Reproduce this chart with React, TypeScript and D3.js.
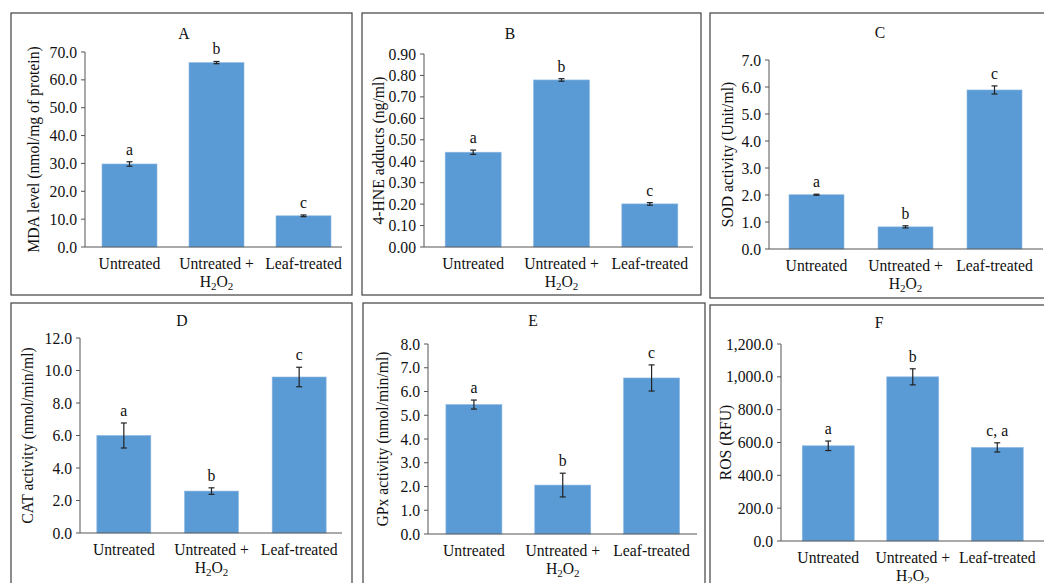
import React from "react";
import * as d3 from "d3";

// Categories shared by all six panels
const categories = ["Untreated", "Untreated + H2O2", "Leaf-treated"];

// A - MDA level
const mdaValues = [29.8, 66.2, 11.2];
const mdaErrors = [0.8, 0.4, 0.3];
const mdaLetters = ["a", "b", "c"];

// B - 4-HNE adducts
const hneValues = [0.442, 0.779, 0.201];
const hneErrors = [0.01, 0.006, 0.006];
const hneLetters = ["a", "b", "c"];

// C - SOD activity
const sodValues = [2.01, 0.82, 5.89];
const sodErrors = [0.02, 0.04, 0.15];
const sodLetters = ["a", "b", "c"];

// D - CAT activity
const catValues = [6.0, 2.58, 9.6];
const catErrors = [0.77, 0.2, 0.6];
const catLetters = ["a", "b", "c"];

// E - GPx activity
const gpxValues = [5.45, 2.06, 6.57];
const gpxErrors = [0.19, 0.5, 0.55];
const gpxLetters = ["a", "b", "c"];

// F - ROS
const rosValues = [580, 1000, 570];
const rosErrors = [29, 49, 28];
const rosLetters = ["a", "b", "c, a"];

const FONT = "'Liberation Serif', 'Times New Roman', serif";
const TEXT = "#111";
const BAR = "#5b9bd5";
const AXIS = "#555";

type PanelProps = {
  title: string;
  yLabel: string;
  values: number[];
  errors: number[];
  letters: string[];
  yMax: number;
  yStep: number;
  fmt: string;
  box: [number, number, number, number];
  axisX: number;
  top: number;
  bottom: number;
  right: number;
  bandRange: [number, number];
  barWidth: number;
  titleX: number;
  titleY: number;
  yLabelX: number;
};

function CategoryLabel({ text, x, y }: { text: string; x: number; y: number }) {
  if (text.endsWith("H2O2")) {
    const first = text.replace(" H2O2", "");
    return (
      <g>
        <text x={x} y={y} textAnchor="middle">{first}</text>
        <text x={x} y={y + 18} textAnchor="middle">
          H<tspan fontSize={11} dy={3}>2</tspan>
          <tspan dy={-3}>O</tspan>
          <tspan fontSize={11} dy={3}>2</tspan>
        </text>
      </g>
    );
  }
  return <text x={x} y={y} textAnchor="middle">{text}</text>;
}

function Panel(p: PanelProps) {
  const y = d3.scaleLinear().domain([0, p.yMax]).range([p.bottom, p.top]);
  const x = d3.scaleBand<string>().domain(categories).range(p.bandRange);
  const ticks = d3.range(0, p.yMax + p.yStep / 2, p.yStep);
  const format = d3.format(p.fmt);
  const [bx, by, bw, bh] = p.box;

  return (
    <g fontFamily={FONT} fontSize={15.7} fill={TEXT}>
      <rect x={bx} y={by} width={bw} height={bh} fill="white" stroke="#404040" strokeWidth={1.2} />
      <text x={p.titleX} y={p.titleY} textAnchor="middle" dominantBaseline="central">{p.title}</text>

      {/* y axis */}
      <line x1={p.axisX} x2={p.axisX} y1={p.top} y2={p.bottom} stroke={AXIS} />
      {ticks.map((t) => (
        <g key={t}>
          <line x1={p.axisX - 4} x2={p.axisX} y1={y(t)} y2={y(t)} stroke={AXIS} />
          <text x={p.axisX - 8} y={y(t)} textAnchor="end" dominantBaseline="central">{format(t)}</text>
        </g>
      ))}
      <text
        transform={`translate(${p.yLabelX},${(p.top + p.bottom) / 2}) rotate(-90)`}
        textAnchor="middle"
        dominantBaseline="central"
      >
        {p.yLabel}
      </text>

      {/* bars */}
      {categories.map((c, i) => {
        const cx = (x(c) as number) + x.bandwidth() / 2;
        const v = p.values[i];
        const e = p.errors[i];
        return (
          <g key={c}>
            <rect x={cx - p.barWidth / 2} y={y(v)} width={p.barWidth} height={p.bottom - y(v)} fill={BAR} stroke="#8cb8e2" strokeWidth={0.6} />
            <line x1={cx} x2={cx} y1={y(v + e)} y2={y(v - e)} stroke="#222" strokeWidth={1.2} />
            <line x1={cx - 3} x2={cx + 3} y1={y(v + e)} y2={y(v + e)} stroke="#222" strokeWidth={1.2} />
            <line x1={cx - 3} x2={cx + 3} y1={y(v - e)} y2={y(v - e)} stroke="#222" strokeWidth={1.2} />
            <text x={cx} y={y(v + e) - 7} textAnchor="middle">{p.letters[i]}</text>
            <CategoryLabel text={c} x={cx} y={p.bottom + 22} />
          </g>
        );
      })}

      {/* x axis */}
      <line x1={p.axisX} x2={p.right} y1={p.bottom} y2={p.bottom} stroke={AXIS} />
    </g>
  );
}

export default function App() {
  return (
    <svg width={1044} height={583} style={{ position: "absolute", left: 0, top: 0, background: "white" }}>
      <Panel
        title="A" yLabel="MDA level (nmol/mg of protein)"
        values={mdaValues} errors={mdaErrors} letters={mdaLetters}
        yMax={70} yStep={10} fmt=".1f"
        box={[11, 13, 341, 282]} axisX={85} top={52} bottom={247} right={342}
        bandRange={[86, 347]} barWidth={55} titleX={184} titleY={33} yLabelX={33}
      />
      <Panel
        title="B" yLabel="4-HNE adducts (ng/ml)"
        values={hneValues} errors={hneErrors} letters={hneLetters}
        yMax={0.9} yStep={0.1} fmt=".2f"
        box={[362, 13, 339, 282]} axisX={424} top={54} bottom={247} right={693}
        bandRange={[429, 694]} barWidth={56} titleX={510} titleY={33} yLabelX={378}
      />
      <Panel
        title="C" yLabel="SOD activity (Unit/ml)"
        values={sodValues} errors={sodErrors} letters={sodLetters}
        yMax={7} yStep={1} fmt=".1f"
        box={[710, 13, 345, 285]} axisX={769} top={60} bottom={249} right={1043}
        bandRange={[772, 1039]} barWidth={55} titleX={880} titleY={32} yLabelX={727}
      />
      <Panel
        title="D" yLabel="CAT activity (nmol/min/ml)"
        values={catValues} errors={catErrors} letters={catLetters}
        yMax={12} yStep={2} fmt=".1f"
        box={[11, 303, 341, 290]} axisX={80} top={338} bottom={533} right={342}
        bandRange={[80, 343]} barWidth={54} titleX={182} titleY={320} yLabelX={27}
      />
      <Panel
        title="E" yLabel="GPx activity (nmol/min/ml)"
        values={gpxValues} errors={gpxErrors} letters={gpxLetters}
        yMax={8} yStep={1} fmt=".1f"
        box={[363, 303, 342, 290]} axisX={428} top={344} bottom={534} right={697}
        bandRange={[429.5, 696]} barWidth={56} titleX={533} titleY={320} yLabelX={382}
      />
      <Panel
        title="F" yLabel="ROS (RFU)"
        values={rosValues} errors={rosErrors} letters={rosLetters}
        yMax={1200} yStep={200} fmt=",.1f"
        box={[710, 305, 345, 290]} axisX={781} top={344} bottom={541} right={1044}
        bandRange={[786, 1039.5]} barWidth={52} titleX={879} titleY={322} yLabelX={725}
      />
    </svg>
  );
}
